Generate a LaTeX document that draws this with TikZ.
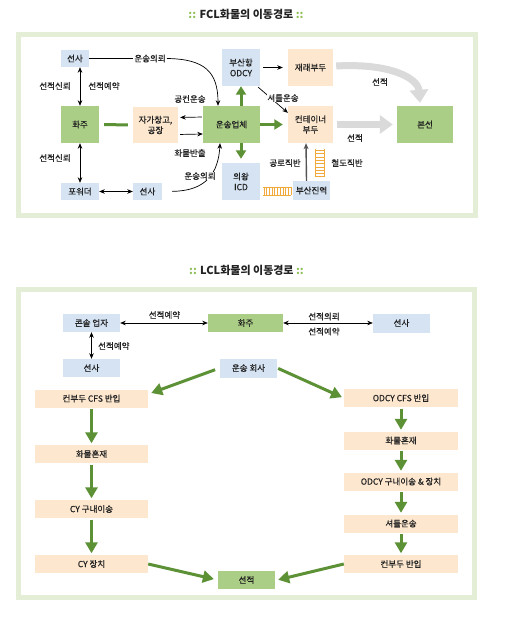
\documentclass[tikz,border=0pt]{standalone}
\usepackage{fontspec}
\setmainfont{Noto Sans CJK KR}
\newfontfamily\krmed{Noto Sans CJK KR}[FakeBold=0.5]
\usetikzlibrary{arrows.meta}
\definecolor{bbox}{HTML}{D5E3F3}
\definecolor{gbox}{HTML}{AACE85}
\definecolor{obox}{HTML}{FDE7CF}
\definecolor{framec}{HTML}{E4EDD6}
\definecolor{garrow}{HTML}{5C9136}
\definecolor{grayarrow}{HTML}{DADADA}
\definecolor{railc}{HTML}{F2A93B}
\definecolor{dotc}{HTML}{8DBF55}
\definecolor{dgray}{HTML}{555555}
\definecolor{txt}{HTML}{222222}
\begin{document}
\begin{tikzpicture}[x=1pt,y=-1pt,
  box/.style={inner sep=0pt, align=center, text=txt, font=\krmed\fontsize{8.5}{10.5}\selectfont},
  wh/.style 2 args={minimum width=#1pt, minimum height=#2pt},
  bluebox/.style={box, fill=bbox},
  greenbox/.style={box, fill=gbox},
  orangebox/.style={box, fill=obox},
  lbl/.style={font=\krmed\fontsize{8.5}{10.5}\selectfont, text=txt, inner sep=1pt},
  ttl/.style={font=\bfseries\fontsize{11}{13}\selectfont, text=txt, inner sep=0pt},
  frm/.style={draw=framec, line width=5pt, fill=white},
  arr/.style={-{Stealth[length=5.5pt,width=4.5pt]}, line width=0.7pt},
  darr/.style={{Stealth[length=5.5pt,width=4.5pt]}-{Stealth[length=5.5pt,width=4.5pt]}, line width=0.7pt},
  garr/.style={-{Triangle[length=8.5pt,width=10pt]}, line width=3pt, draw=garrow},
  garrb/.style={-{Triangle[length=11pt,width=12pt]}, line width=3pt, draw=garrow},
  gline/.style={line width=3pt, draw=garrow},
  gyarr/.style={-{Triangle[length=13pt,width=18pt]}, line width=7pt, draw=grayarrow},
  rail/.style={draw=railc, line width=0.8pt}
]
\useasboundingbox[fill=white] (0,0) rectangle (508,617);

% ---------------- FCL ----------------
\node[ttl] (t1) at (246,14) {\textcolor{dotc}{::} FCL화물의 이동경로 \textcolor{dotc}{::}};
\draw[frm] (18.5,34.5) rectangle (475.5,215.5);

\node[bluebox, wh={28}{17}] (sa1) at (75,58.5) {선사};
\node[greenbox, wh={38}{37}] (hwaju) at (80,124.5) {화주};
\node[orangebox, wh={45}{36}] (jaga) at (155.5,125) {자가창고,\\공장};
\node[greenbox, wh={57}{37}] (ytrans) at (231.5,124.5) {운송업체};
\node[bluebox, wh={38}{17}] (fwd) at (80,191.5) {포워더};
\node[bluebox, wh={29}{17}] (sa2) at (147.5,191.5) {선사};
\node[bluebox, wh={38}{37}] (icd) at (241,181.5) {의왕\\ICD};
\node[bluebox, wh={38}{37}] (odcy) at (241,67.5) {부산항\\ODCY};
\node[orangebox, wh={45}{37}] (jaerae) at (310.5,67.5) {재래부두};
\node[orangebox, wh={45}{37}] (ctb) at (310.5,124.5) {컨테이너\\부두};
\node[greenbox, wh={56}{37}] (bonsun) at (425,124.5) {본선};
\node[bluebox, wh={37}{19}] (bsj) at (311.5,190.5) {부산진역};

% connectors
\draw[darr] (hwaju.north |- sa1.south) -- (hwaju.north);
\node[lbl] (l1) at (55,86) {선적신뢰};
\node[lbl] (l2) at (104,86) {선적예약};
\draw[darr] (hwaju.south) -- (fwd.north);
\node[lbl] (l3) at (55,158) {선적신뢰};
\draw[darr] (fwd.east) -- (sa2.west);
\draw[gline, shorten <=5pt, shorten >=5pt] (hwaju.east) -- (jaga.west);
\draw[arr, shorten <=1pt, shorten >=2pt] ([yshift=7.5pt]ytrans.west) -- ([yshift=7.5pt]jaga.east);
\draw[arr, shorten <=2pt] ([yshift=-9.5pt]jaga.east) -- ([yshift=-9.5pt]ytrans.west);
\node[lbl] (l4) at (190,99) {공컨운송};
\node[lbl] (l5) at (190,153) {화물반출};

\node[lbl] (q1) at (150,58.5) {운송의뢰};
\draw[line width=0.7pt] (sa1.east) -- (q1.west);
\draw[arr] (q1.east) .. controls (205,59) and (218,72) .. ([xshift=-13.5pt]ytrans.north);
\draw[arr, shorten <=10pt] (sa2.east) .. controls (198,191) and (218,181) .. ([xshift=-11.5pt]ytrans.south);
\node[lbl, fill=white, inner sep=0.5pt] (q2) at (200,176) {운송의뢰};

\draw[garr] (odcy.south |- ytrans.north) -- (odcy.south);
\draw[garr, shorten >=4pt] (icd.north |- ytrans.south) -- (icd.north);
\draw[garr, shorten >=5pt] (ytrans.east) -- (ctb.west);

\draw[arr, shorten <=3pt, shorten >=5pt] (odcy.east |- jaerae.east) -- (jaerae.west);
\draw[arr] ([shift={(-2pt,-1pt)}]odcy.south east) -- ([yshift=-7pt]ctb.north west);
\node[lbl, fill=white, inner sep=0.5pt] (l6) at (283,98) {셔틀운송};

\draw[gyarr] ([xshift=3pt,yshift=1.5pt]jaerae.east) .. controls (390,63) and (418,78) .. ([xshift=-5pt,yshift=3pt]bonsun.north);
\node[lbl] (l7) at (380,82) {선적};
\draw[gyarr, shorten <=4pt, shorten >=4pt] (ctb.east) -- (bonsun.west);
\node[lbl] (l8) at (355,138) {선적};

\draw[-{Stealth[length=6pt,width=5pt]}, line width=1.4pt, draw=dgray] ([xshift=-5pt]bsj.north) -- ([xshift=-4.5pt]ctb.south);
\node[lbl] (l9) at (285,163) {공로직반};
\node[lbl] (l10) at (347,163) {철도직반};

% rail ladders
\draw[rail] (315,149) -- (315,177) (324,149) -- (324,177);
\foreach \yy in {150.5,153.8,...,177} \draw[rail] (315,\yy) -- (324,\yy);
\draw[rail] (263,187) -- (291,187) (263,195) -- (291,195);
\foreach \xx in {264,266.7,...,291} \draw[rail] (\xx,187) -- (\xx,195);

% ---------------- LCL ----------------
\node[ttl] (t2) at (246.5,270) {\textcolor{dotc}{::} LCL화물의 이동경로 \textcolor{dotc}{::}};
\draw[frm] (18.5,289.5) rectangle (474.5,597.5);

\node[bluebox, wh={57}{18}] (cons) at (91.5,323) {콘솔 업자};
\node[greenbox, wh={75}{18}] (hwaju2) at (245.5,323) {화주};
\node[bluebox, wh={57}{19}] (sa3) at (401.5,323) {선사};
\node[bluebox, wh={57}{18}] (sa4) at (91.5,368) {선사};
\node[bluebox, wh={57}{19}] (uns) at (248.5,368) {운송 회사};

\node[orangebox, wh={113}{18}] (cfs1) at (91.5,398.5) {컨부두 CFS 반입};
\node[orangebox, wh={113}{18}] (mix1) at (91.5,454) {화물혼재};
\node[orangebox, wh={113}{18}] (cy1) at (91.5,509) {CY 구내이송};
\node[orangebox, wh={113}{18}] (cy2) at (91.5,564) {CY 장치};

\node[orangebox, wh={114}{18}] (cfs2) at (401,398) {ODCY CFS 반입};
\node[orangebox, wh={114}{18}] (mix2) at (401,440.5) {화물혼재};
\node[orangebox, wh={114}{18}] (od2) at (401,481.5) {ODCY 구내이송 \& 장치};
\node[orangebox, wh={114}{18}] (shu) at (401,523.5) {셔틀운송};
\node[orangebox, wh={114}{18}] (kb) at (401,564) {컨부두 반입};

\node[greenbox, wh={57}{18}] (seon) at (246.5,580) {선적};

\draw[darr] (cons.east) -- (hwaju2.west);
\node[lbl] (m1) at (164.5,315) {선적예약};
\draw[darr] (hwaju2.east) -- (sa3.west);
\node[lbl] (m2) at (324,316.5) {선적의뢰};
\node[lbl] (m3) at (324,331.5) {선적예약};
\draw[darr] (cons.south) -- (sa4.north);
\node[lbl, anchor=west] (m4) at (97,346) {선적예약};

\draw[garrb, shorten <=5pt] (uns.west) -- ([shift={(3pt,5.5pt)}]cfs1.east);
\draw[garrb, shorten <=1pt, shorten >=2pt] (uns.east) -- (cfs2.west);
\foreach \a/\b in {cfs1/mix1, mix1/cy1, cy1/cy2, cfs2/mix2, mix2/od2, od2/shu, shu/kb}
  \draw[garrb, shorten <=1.5pt, shorten >=1.5pt] (\a.south) -- (\b.north);
\draw[garrb, shorten >=4pt] (cy2.east) -- (seon.west);
\draw[garrb, shorten >=1pt] (kb.west) -- ([xshift=2pt]seon.east);
\end{tikzpicture}
\end{document}
